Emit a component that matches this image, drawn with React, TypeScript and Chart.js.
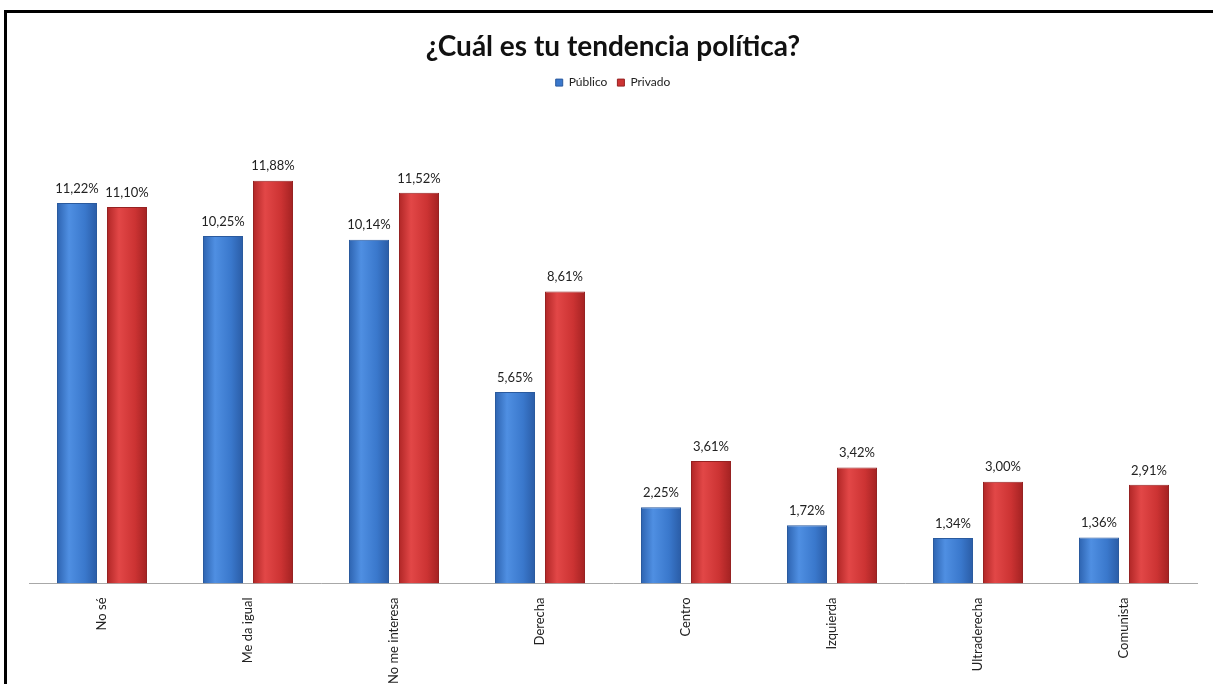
import React, { useEffect, useRef } from "react";
import { Chart, registerables } from "chart.js";

Chart.register(...registerables);

const categories = ["No sé", "Me da igual", "No me interesa", "Derecha", "Centro", "Izquierda", "Ultraderecha", "Comunista"];
const publico = [11.22, 10.25, 10.14, 5.65, 2.25, 1.72, 1.34, 1.36];
const privado = [11.10, 11.88, 11.52, 8.61, 3.61, 3.42, 3.00, 2.91];
const seriesNames = ["Público", "Privado"];
const titleText = "¿Cuál es tu tendencia política?";

const CAT_PCT = 0.685;
const BAR_PCT = 0.8;

const fmt = (v: number) => v.toFixed(2).replace(".", ",") + "%";

const palettes = [
  { base: "#3a78cc", stops: ["#2d63b0", "#4f8fe2", "#3a78cc", "#2a5ca6"] },
  { base: "#cc3333", stops: ["#b02626", "#e24747", "#cc3333", "#a32222"] },
];

function barFill(ctx: any) {
  const pal = palettes[ctx.datasetIndex];
  const chart = ctx.chart;
  const xs = chart.scales && chart.scales.x;
  if (!xs || ctx.dataIndex === undefined || !chart.chartArea) return pal.base;
  const n = categories.length;
  const catW = (chart.chartArea.right - chart.chartArea.left) / n;
  const center = xs.getPixelForValue(ctx.dataIndex);
  const slot = (catW * CAT_PCT) / 2;
  const bc = center + (ctx.datasetIndex - 0.5) * slot;
  const bw = slot * BAR_PCT;
  const g = chart.ctx.createLinearGradient(bc - bw / 2, 0, bc + bw / 2, 0);
  g.addColorStop(0, pal.stops[0]);
  g.addColorStop(0.3, pal.stops[1]);
  g.addColorStop(0.7, pal.stops[2]);
  g.addColorStop(1, pal.stops[3]);
  return g;
}

const valueLabels = {
  id: "valueLabels",
  afterDatasetsDraw(chart: any) {
    const ctx = chart.ctx;
    ctx.save();
    ctx.font = "13px Lato";
    ctx.fillStyle = "#222";
    ctx.textAlign = "center";
    ctx.textBaseline = "bottom";
    chart.data.datasets.forEach((ds: any, di: number) => {
      const meta = chart.getDatasetMeta(di);
      meta.data.forEach((bar: any, i: number) => {
        ctx.fillText(fmt(ds.data[i]), bar.x, bar.y - 8);
      });
    });
    ctx.restore();
  },
};

export default function App() {
  const ref = useRef<HTMLCanvasElement>(null);
  useEffect(() => {
    if (!ref.current) return;
    const chart = new Chart(ref.current, {
      type: "bar",
      data: {
        labels: categories,
        datasets: [
          {
            label: seriesNames[0],
            data: publico,
            backgroundColor: barFill,
            borderColor: "#2a5a9e",
            borderWidth: 1,
            categoryPercentage: CAT_PCT,
            barPercentage: BAR_PCT,
          },
          {
            label: seriesNames[1],
            data: privado,
            backgroundColor: barFill,
            borderColor: "#962222",
            borderWidth: 1,
            categoryPercentage: CAT_PCT,
            barPercentage: BAR_PCT,
          },
        ],
      },
      options: {
        responsive: false,
        animation: false,
        layout: { padding: { top: 20, left: 29, right: 16, bottom: -14 } },
        plugins: {
          title: {
            display: true,
            text: titleText,
            color: "#111",
            font: { family: "Lato", size: 28, weight: "bold" },
            padding: { top: 10, bottom: 3 },
          },
          legend: {
            display: true,
            labels: {
              boxWidth: 7,
              boxHeight: 7,
              color: "#222",
              font: { family: "Lato", size: 12 },
              padding: 10,
              generateLabels: (c: any) =>
                c.data.datasets.map((ds: any, i: number) => ({
                  text: ds.label,
                  fillStyle: palettes[i].base,
                  strokeStyle: ds.borderColor,
                  lineWidth: 1,
                  hidden: false,
                  datasetIndex: i,
                  fontColor: "#222",
                })),
            },
          },
          tooltip: { enabled: false },
        },
        scales: {
          x: {
            grid: { display: false, drawTicks: false },
            border: { display: true, color: "#a8a8a8", width: 1 },
            ticks: {
              minRotation: 90,
              maxRotation: 90,
              color: "#222",
              padding: 14,
              font: { family: "Lato", size: 13 },
            },
          },
          y: {
            display: false,
            min: 0,
            max: 14.3,
          },
        },
      },
      plugins: [valueLabels],
    });
    return () => chart.destroy();
  }, []);

  return (
    <div style={{ position: "absolute", left: 0, top: 0, width: 1213, height: 684, background: "#fff", overflow: "hidden" }}>
      <div style={{ position: "absolute", left: 4, top: 10, width: 1220, height: 700, borderTop: "3px solid #000", borderLeft: "3px solid #000" }} />
      <canvas ref={ref} width={1213} height={684} style={{ position: "absolute", left: 0, top: 0 }} />
    </div>
  );
}
